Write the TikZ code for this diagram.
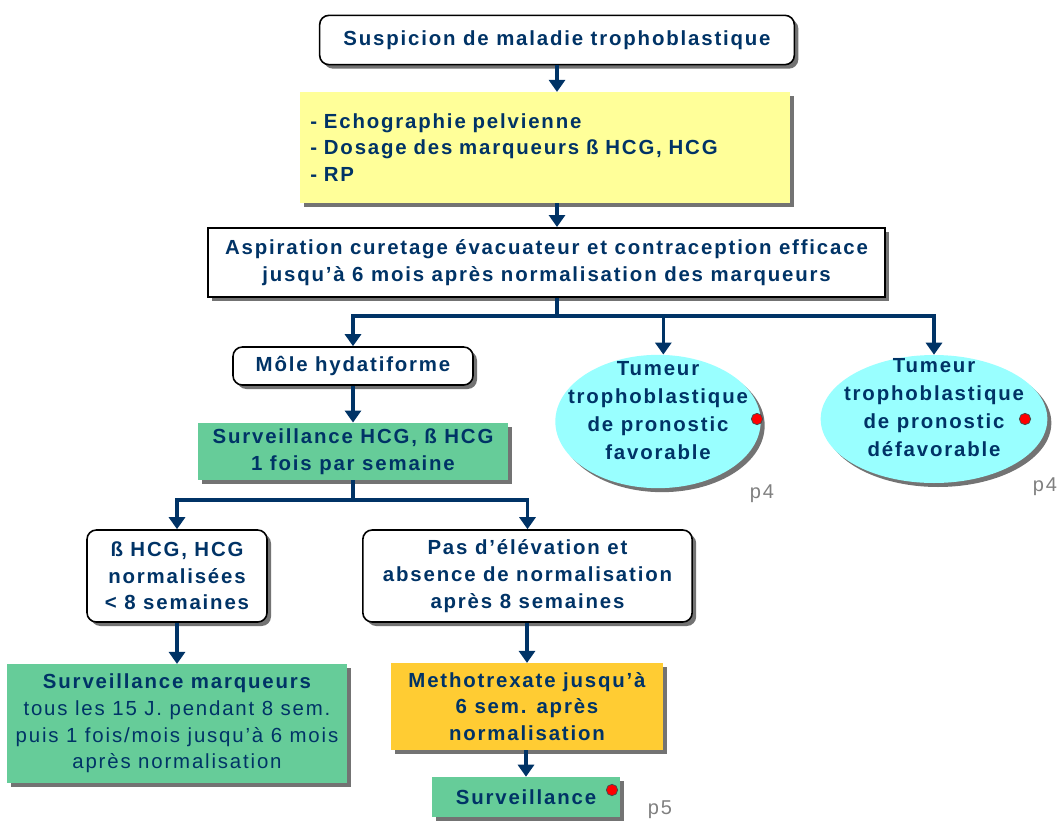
\documentclass[tikz,border=0pt]{standalone}
\usepackage{fontspec}
\setmainfont{Liberation Sans}[LetterSpace=9]
\usetikzlibrary{positioning, shapes.geometric, shadows, arrows.meta}
\definecolor{navy}{HTML}{003366}
\definecolor{pale}{HTML}{FFFF99}
\definecolor{mint}{HTML}{66CC99}
\definecolor{aqua}{HTML}{99FFFF}
\definecolor{amber}{HTML}{FFCC33}
\tikzset{
	base/.style={align=center, text=navy, inner sep=1pt, font=\bfseries\fontsize{15.3}{20}\selectfont,
		drop shadow={shadow xshift=3pt, shadow yshift=-3pt, fill=black!55, opacity=1}},
	rbox/.style={base, draw=black, line width=1.2pt, fill=white, rounded corners=7pt},
	wbox/.style={base, draw=black, line width=1.2pt, fill=white},
	ybox/.style={base, fill=pale},
	gbox/.style={base, fill=mint},
	obox/.style={base, fill=amber},
	oval/.style={base, ellipse, fill=aqua, inner xsep=-15pt, inner ysep=-15pt, text depth=17pt,
		font=\bfseries\fontsize{15.3}{21}\selectfont},
	dot/.style={circle, fill=red, draw=black!70, line width=0.6pt, inner sep=0pt, minimum size=8.5pt},
	page/.style={text=black!50, font=\fontsize{15}{16}\selectfont},
	arr/.style={navy, line width=2.6pt, -{Triangle[width=12pt,length=9pt]}},
	link/.style={navy, line width=2.6pt}
}
\begin{document}
\begin{tikzpicture}[x=0.75pt, y=-0.75pt]
	\useasboundingbox (0,0) rectangle (1063,824);
	\node[rbox, minimum width=356pt, minimum height=37pt] (susp) at (557,40) {Suspicion de maladie trophoblastique};
	\node[ybox, minimum height=83pt, text width=352pt, inner sep=7.5pt, align=left] (exam) at (545,147.5) {- Echographie pelvienne\\- Dosage des marqueurs ß HCG, HCG\\- RP};
	\node[wbox, minimum width=508pt, minimum height=52pt] (aspir) at (546.5,262.5) {Aspiration curetage évacuateur et contraception efficace\\jusqu'à 6 mois après normalisation des marqueurs};
	\coordinate (split1) at (557,316);
	\node[rbox, minimum width=180pt, minimum height=28.5pt] (mole) at (353,366) {Môle hydatiforme};
	\node[oval, minimum width=154pt, minimum height=100pt] (tumfav) at (658,421.5) {Tumeur\\trophoblastique\\de pronostic\\favorable};
	\node[oval, minimum width=170pt, minimum height=96pt] (tumdef) at (934,419) {Tumeur\\trophoblastique\\de pronostic\\défavorable};
	\node[dot] (dotfav) at (757,419) {};
	\node[dot] (dotdef) at (1025,419) {};
	\node[page] (pfav) at (762,494) {p4};
	\node[page] (pdef) at (1045,487) {p4};
	\node[gbox, minimum width=232.5pt, minimum height=43pt] (survhcg) at (353,451.5) {Surveillance HCG, ß HCG\\1 fois par semaine};
	\coordinate (split2) at (353,500);
	\node[rbox, minimum width=135pt, minimum height=69pt] (norm) at (177,576) {ß HCG, HCG\\normalisées\\< 8 semaines};
	\node[rbox, minimum width=247pt, minimum height=69pt] (pasel) at (527.5,576) {Pas d'élévation et\\absence de normalisation\\après 8 semaines};
	\node[gbox, minimum width=255pt, minimum height=89pt] (survmarq) at (177,723.5) {Surveillance marqueurs\\\mdseries tous les 15 J. pendant 8 sem.\\\mdseries puis 1 fois/mois jusqu'à 6 mois\\\mdseries après normalisation};
	\node[obox, minimum width=204pt, minimum height=65pt] (metho) at (527,706.5) {Methotrexate jusqu'à\\6 sem. après\\normalisation};
	\node[gbox, minimum width=141pt, minimum height=30pt] (surv) at (526,797) {Surveillance};
	\node[dot] (dotsurv) at (612,790) {};
	\node[page] (psurv) at (660,810) {p5};
	\draw[arr] (susp) -- (exam.north -| susp);
	\draw[arr] (exam.south -| susp) -- (aspir.north -| susp);
	\draw[link] (aspir.south -| split1) -- (split1);
	\draw[arr] (split1) -| (mole);
	\draw[arr] (split1) -| ([xshift=4pt]tumfav.north);
	\draw[arr] (split1) -| (tumdef);
	\draw[arr] (mole) -- (survhcg);
	\draw[link] (survhcg) -- (split2);
	\draw[arr] (split2) -| (norm);
	\draw[arr] (split2) -| (pasel);
	\draw[arr] (norm) -- (survmarq);
	\draw[arr] (pasel.south -| metho) -- (metho);
	\draw[arr] (metho.south -| surv) -- (surv);
\end{tikzpicture}
\end{document}
